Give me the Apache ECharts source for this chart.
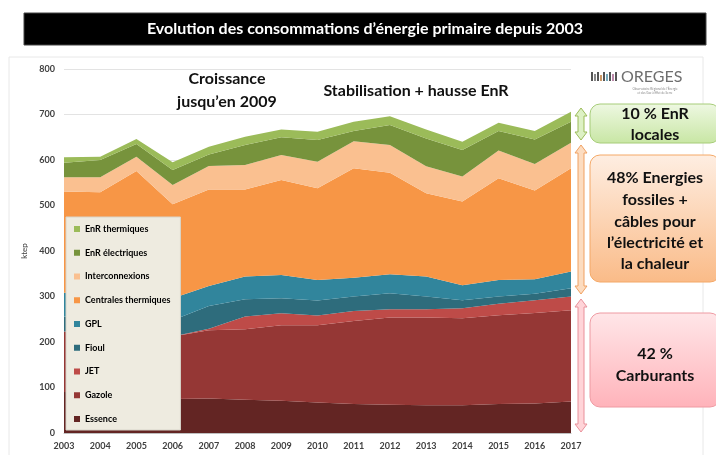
<!DOCTYPE html>
<html>
<head>
<meta charset="utf-8">
<script src="https://cdn.jsdelivr.net/npm/echarts@6/dist/echarts.min.js"></script>
<style>
  html, body { margin: 0; padding: 0; background: #fff; }
  #main { width: 716px; height: 455px; }
</style>
</head>
<body>
<div id="main"></div>
<script>
  // années
  const years = ['2003', '2004', '2005', '2006', '2007', '2008', '2009', '2010',
    '2011', '2012', '2013', '2014', '2015', '2016', '2017'];
  // consommations en ktep
  const essence = [90, 88, 82, 75, 76, 73, 71, 67, 64, 62, 61, 61, 64, 65, 69];
  const gazole = [133, 133, 135, 137, 150, 155, 166, 170, 182, 192, 193, 191, 195, 199, 201];
  const jet = [0, 0, 0, 0, 3, 28, 26, 21, 22, 18, 18, 22, 25, 28, 30];
  const fioul = [33, 33, 33, 36, 50, 38, 33, 33, 32, 35, 28, 18, 16, 14, 18];
  const gpl = [52, 51, 52, 48, 44, 50, 51, 45, 41, 42, 44, 33, 36, 32, 37];
  const centrales = [223, 224, 274, 207, 212, 191, 209, 202, 241, 223, 183, 184, 224, 195, 227];
  const interco = [31, 33, 31, 42, 52, 54, 55, 58, 59, 61, 59, 55, 61, 58, 56];
  const enrElec = [32, 38, 28, 33, 25, 44, 39, 48, 23, 44, 61, 58, 43, 54, 46];
  const enrTherm = [12, 7, 11, 17, 17, 18, 17, 18, 20, 19, 20, 18, 18, 19, 22];

  const seriesDefs = [
    { name: 'Essence', data: essence, color: '#632523' },
    { name: 'Gazole', data: gazole, color: '#953735' },
    { name: 'JET', data: jet, color: '#BE4B48' },
    { name: 'Fioul', data: fioul, color: '#2E6C7C' },
    { name: 'GPL', data: gpl, color: '#31859C' },
    { name: 'Centrales thermiques', data: centrales, color: '#F79646' },
    { name: 'Interconnexions', data: interco, color: '#FAC090' },
    { name: 'EnR électriques', data: enrElec, color: '#77933C' },
    { name: 'EnR thermiques', data: enrTherm, color: '#9BBB59' }
  ];

  const FONT = 'Lato, "Open Sans", sans-serif';
  const myChart = echarts.init(document.getElementById('main'));

  // flèche double verticale
  function dblArrow(cx, y1, y2, fill, stroke) {
    const h = 8, hw = 6, sw = 3;
    return {
      type: 'polygon',
      z: 5,
      shape: {
        points: [[cx, y1], [cx + hw, y1 + h], [cx + sw, y1 + h], [cx + sw, y2 - h], [cx + hw, y2 - h],
          [cx, y2], [cx - hw, y2 - h], [cx - sw, y2 - h], [cx - sw, y1 + h], [cx - hw, y1 + h]]
      },
      style: { fill: fill, stroke: stroke, lineWidth: 1 }
    };
  }

  function box(y, h, c1, c2, stroke) {
    return {
      type: 'rect',
      z: 5,
      shape: { x: 590, y: y, width: 130, height: h, r: 10 },
      style: {
        fill: new echarts.graphic.LinearGradient(0, 0, 0, 1, [
          { offset: 0, color: c1 }, { offset: 1, color: c2 }
        ]),
        stroke: stroke, lineWidth: 1
      }
    };
  }

  function label(text, x, y, size) {
    return {
      type: 'text',
      z: 6,
      style: {
        text: text, x: x, y: y, fill: '#111',
        font: 'bold ' + size + 'px ' + FONT,
        textAlign: 'center', textVerticalAlign: 'middle'
      }
    };
  }

  const logoBars = [
    [591, 72, '#555'], [594, 74, '#888'], [597, 72, '#555'], [600, 75, '#c96'], [603, 72, '#555'],
    [606, 74, '#7ab'], [609, 72, '#555'], [612, 74, '#b8a'], [615, 72, '#555']
  ];

  const option = {
    animation: false,
    color: seriesDefs.map(s => s.color),
    grid: { left: 64, right: 145, top: 69, bottom: 22 },
    legend: {
      orient: 'vertical',
      left: 66,
      top: 217,
      z: 6,
      data: seriesDefs.map(s => s.name).reverse(),
      icon: 'rect',
      itemWidth: 6,
      itemHeight: 6,
      itemGap: 12.75,
      padding: [6.5, 10, 5.5, 8],
      backgroundColor: '#EEEBE0',
      borderColor: '#D8D5CA',
      borderWidth: 1,
      textStyle: { fontFamily: FONT, fontWeight: 'bold', fontSize: 9, color: '#000', lineHeight: 11 }
    },
    xAxis: {
      type: 'category',
      boundaryGap: false,
      data: years,
      axisLine: { show: true, lineStyle: { color: '#BFBFBF' } },
      axisTick: { show: false },
      axisLabel: { fontFamily: FONT, fontWeight: 'bold', fontSize: 9, color: '#404040', margin: 9 }
    },
    yAxis: {
      type: 'value',
      min: 0,
      max: 800,
      interval: 100,
      name: 'ktep',
      nameLocation: 'middle',
      nameGap: 32,
      nameTextStyle: { fontFamily: FONT, fontSize: 8, color: '#404040' },
      axisLine: { show: false },
      axisTick: { show: false },
      axisLabel: { fontFamily: FONT, fontWeight: 'bold', fontSize: 9, color: '#404040', margin: 9 },
      splitLine: { lineStyle: { color: '#E3E3E3' } }
    },
    series: seriesDefs.map(s => ({
      name: s.name,
      type: 'line',
      stack: 'total',
      data: s.data,
      symbol: 'none',
      lineStyle: { width: 0 },
      itemStyle: { color: s.color },
      areaStyle: { color: s.color, opacity: 1 }
    })),
    graphic: [
      // cadre du graphique
      { type: 'rect', z: -1, shape: { x: 9, y: 57, width: 694, height: 410 },
        style: { fill: 'none', stroke: '#E8E8E8', lineWidth: 1 } },
      // bandeau titre
      { type: 'rect', z: 5, shape: { x: 24, y: 13, width: 682, height: 32 },
        style: { fill: '#000', stroke: '#444', lineWidth: 1 } },
      { type: 'text', z: 6, style: {
          text: 'Evolution des consommations d’énergie primaire depuis 2003', x: 365, y: 29,
          fill: '#fff', font: 'bold 16px ' + FONT, textAlign: 'center', textVerticalAlign: 'middle' } },
      // textes d'annotation
      label('Croissance', 227, 79, 16),
      label('jusqu’en 2009', 227, 102, 16),
      label('Stabilisation + hausse EnR', 416, 91, 16),
      // logo
      ...logoBars.map(b => ({ type: 'rect', z: 5, shape: { x: b[0], y: b[1], width: 2, height: 81 - b[1] },
        style: { fill: b[2] } })),
      { type: 'text', z: 6, style: { text: 'OREGES', x: 621, y: 77, fill: '#6E6E6E',
          font: '16px ' + FONT, textVerticalAlign: 'middle' } },
      { type: 'text', z: 6, style: { text: 'Observatoire Régional de l’Énergie\net des Gaz à Effet de Serre',
          x: 655, y: 91, fill: '#888', font: '3px ' + FONT, textAlign: 'center', textVerticalAlign: 'middle',
          lineHeight: 4 } },
      // flèches
      dblArrow(581, 108, 140, '#DDF1C4', '#9BBB59'),
      dblArrow(581, 145, 294, '#FCDCC0', '#F0A060'),
      dblArrow(581, 299, 432, '#FFD4D8', '#E8909A'),
      // encadrés
      box(104, 39, '#EEF8E2', '#C8E6A4', '#A6CC78'),
      box(155, 127, '#FEEEE2', '#FABB88', '#F4A866'),
      box(313, 94, '#FFE6E8', '#FFB3BA', '#EE9AA2'),
      label('10 % EnR', 655, 114, 16),
      label('locales', 655, 135, 16),
      label('48% Energies', 655, 178, 16),
      label('fossiles +', 655, 200, 16),
      label('câbles pour', 655, 222, 16),
      label('l’électricité et', 655, 243, 16),
      label('la chaleur', 655, 264, 16),
      label('42 %', 655, 354, 16),
      label('Carburants', 655, 376, 16)
    ]
  };
  myChart.setOption(option);
</script>
</body>
</html>
